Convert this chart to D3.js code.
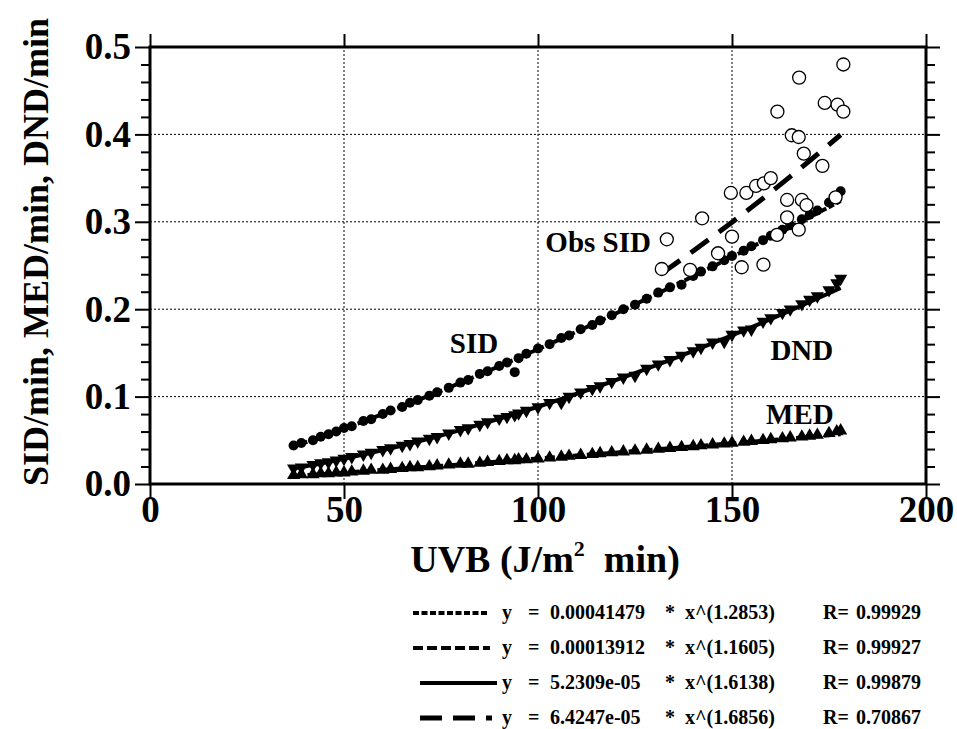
<!DOCTYPE html>
<html>
<head>
<meta charset="utf-8">
<script src="https://cdn.jsdelivr.net/npm/d3@7"></script>
<style>
  body { margin: 0; background: #fff; }
  svg text { font-family: "Liberation Serif", "Times New Roman", serif; font-weight: bold; fill: #000; }
</style>
</head>
<body>
<div id="chart"></div>
<script>
// calculated values (same UVB readings for SID, MED, DND)
var uvb = [37,39,42,44,46,48,50,52,55,57,60,62,65,67,69,72,74,77,80,82,85,87,90,92,94,95,97,100,103,106,108,111,114,116,119,122,125,128,131,134,137,140,142,145,148,150,153,155,158,160,163,165,168,170,172,175,177,178]
var sidCalc = [0.044,0.047,0.050,0.054,0.057,0.060,0.064,0.066,0.072,0.074,0.080,0.084,0.088,0.093,0.096,0.101,0.105,0.110,0.116,0.119,0.126,0.129,0.135,0.139,0.128,0.144,0.149,0.155,0.160,0.167,0.170,0.177,0.182,0.187,0.193,0.200,0.205,0.212,0.219,0.225,0.228,0.238,0.243,0.249,0.256,0.261,0.267,0.272,0.279,0.284,0.291,0.296,0.303,0.308,0.313,0.322,0.326,0.335]
var medCalc = [0.010,0.011,0.011,0.012,0.012,0.013,0.013,0.014,0.015,0.016,0.016,0.017,0.018,0.019,0.019,0.020,0.021,0.022,0.023,0.023,0.024,0.025,0.026,0.027,0.027,0.028,0.028,0.029,0.030,0.031,0.032,0.033,0.034,0.035,0.036,0.037,0.038,0.039,0.040,0.041,0.042,0.043,0.044,0.045,0.046,0.047,0.048,0.049,0.050,0.051,0.052,0.053,0.054,0.055,0.056,0.058,0.060,0.061]
var dndCalc = [0.018,0.019,0.022,0.024,0.025,0.027,0.029,0.031,0.034,0.036,0.039,0.041,0.044,0.046,0.049,0.052,0.054,0.058,0.062,0.064,0.068,0.071,0.075,0.077,0.079,0.081,0.084,0.088,0.093,0.093,0.100,0.105,0.109,0.112,0.117,0.122,0.124,0.132,0.137,0.142,0.147,0.152,0.156,0.162,0.163,0.171,0.176,0.177,0.186,0.190,0.196,0.200,0.206,0.211,0.215,0.222,0.230,0.235]

// observed SID (open circles)
var obsUvb = [178.7,167.3,161.7,173.9,177.2,178.7,165.4,167.2,168.5,173.3,149.7,153.7,156.2,158.2,160.0,164.2,168.0,169.2,176.7,142.3,164.2,150.0,161.6,167.2,133.2,131.9,139.2,146.4,152.5,158.1]
var obsSid = [0.480,0.465,0.426,0.436,0.434,0.426,0.399,0.397,0.378,0.364,0.333,0.333,0.341,0.344,0.350,0.325,0.325,0.319,0.328,0.304,0.305,0.283,0.285,0.291,0.280,0.246,0.245,0.264,0.248,0.251]

// fitted curves
var fitUvb = [37,44,50,57,65,74,82,90,100,108,116,125,134,142,150,158,165,172,178]
var sidFit = [0.0430,0.0537,0.0633,0.0749,0.0887,0.1048,0.1196,0.1348,0.1543,0.1703,0.1867,0.2055,0.2248,0.2421,0.2598,0.2778,0.2937,0.3098,0.3238]
var medFit = [0.0092,0.0112,0.0130,0.0152,0.0177,0.0205,0.0231,0.0258,0.0291,0.0319,0.0346,0.0377,0.0409,0.0438,0.0466,0.0495,0.0521,0.0547,0.0569]
var dndFit = [0.0178,0.0235,0.0289,0.0357,0.0441,0.0544,0.0642,0.0746,0.0884,0.1001,0.1124,0.1268,0.1418,0.1557,0.1701,0.1850,0.1984,0.2122,0.2243]
var obsFitUvb = [132,140,145,150,155,160,165,170,175,178]
var obsFit = [0.2414,0.2666,0.2829,0.2995,0.3165,0.3339,0.3517,0.3698,0.3883,0.3996]

var xTicks = [0,50,100,150,200]
var yTicks = [0,0.1,0.2,0.3,0.4,0.5]
var yMinor = [0.02,0.04,0.06,0.08,0.12,0.14,0.16,0.18,0.22,0.24,0.26,0.28,0.32,0.34,0.36,0.38,0.42,0.44,0.46,0.48]

var legendCoef = ["0.00041479","0.00013912","5.2309e-05","6.4247e-05"]
var legendExp = ["1.2853","1.1605","1.6138","1.6856"]
var legendR = ["0.99929","0.99927","0.99879","0.70867"]

var width = 957, height = 729

var svg = d3.select("#chart").append("svg")
  .attr("width", width)
  .attr("height", height)

var x = d3.scaleLinear().domain([0, 200]).range([150, 926])
var y = d3.scaleLinear().domain([0, 0.5]).range([484, 47])

// grid (dotted)
var grid = svg.append("g").attr("stroke", "#000").attr("stroke-width", 1).attr("stroke-dasharray", "2,2")
grid.selectAll(".gy").data(yTicks.slice(1, -1)).enter().append("line")
  .attr("x1", x(0)).attr("x2", x(200))
  .attr("y1", function(d) { return y(d) }).attr("y2", function(d) { return y(d) })
grid.selectAll(".gx").data(xTicks.slice(1, -1)).enter().append("line")
  .attr("y1", y(0)).attr("y2", y(0.5))
  .attr("x1", function(d) { return x(d) }).attr("x2", function(d) { return x(d) })

// fitted lines
var line = d3.line()
  .x(function(d) { return x(d[0]) })
  .y(function(d) { return y(d[1]) })
  .curve(d3.curveMonotoneX)

function fitPath(xs, ys, dash, w) {
  svg.append("path")
    .datum(xs.map(function(v, i) { return [v, ys[i]] }))
    .attr("d", line)
    .attr("fill", "none")
    .attr("stroke", "#000")
    .attr("stroke-width", w)
    .attr("stroke-dasharray", dash)
}
fitPath(fitUvb, sidFit, "6,2.5", 4)
fitPath(fitUvb, medFit, "10,4", 4)
fitPath(fitUvb, dndFit, null, 4)
fitPath(obsFitUvb, obsFit, "22,13", 5)

// calculated points
svg.append("g").selectAll("circle").data(uvb).enter().append("circle")
  .attr("cx", function(d) { return x(d) })
  .attr("cy", function(d, i) { return y(sidCalc[i]) })
  .attr("r", 5)
  .attr("fill", "#000")

var tri = d3.symbol().type(d3.symbolTriangle).size(75)
svg.append("g").selectAll("path").data(uvb).enter().append("path")
  .attr("d", tri)
  .attr("transform", function(d, i) { return "translate(" + x(d) + "," + y(medCalc[i]) + ")" })
  .attr("fill", "#000")
svg.append("g").selectAll("path").data(uvb).enter().append("path")
  .attr("d", tri)
  .attr("transform", function(d, i) { return "translate(" + x(d) + "," + y(dndCalc[i]) + ") rotate(180)" })
  .attr("fill", "#000")

// observed points
svg.append("g").selectAll("circle").data(obsUvb).enter().append("circle")
  .attr("cx", function(d) { return x(d) })
  .attr("cy", function(d, i) { return y(obsSid[i]) })
  .attr("r", 6.5)
  .attr("fill", "#fff")
  .attr("stroke", "#000")
  .attr("stroke-width", 1.3)

// series labels
function label(t, dx, dy) {
  svg.append("text").attr("x", x(dx)).attr("y", y(dy))
    .attr("text-anchor", "middle").style("font-size", "29px").text(t)
}
label("Obs SID", 115.5, 0.266)
label("SID", 83.5, 0.150)
label("DND", 168, 0.142)
label("MED", 167.5, 0.069)

// frame
svg.append("rect")
  .attr("x", x(0)).attr("y", y(0.5))
  .attr("width", x(200) - x(0)).attr("height", y(0) - y(0.5))
  .attr("fill", "none").attr("stroke", "#000").attr("stroke-width", 3)

function styleAxis(g, fontSize) {
  g.select(".domain").remove()
  g.selectAll(".tick line").attr("stroke", "#000").attr("stroke-width", 2)
  g.selectAll("text").style("font-size", fontSize).attr("fill", "#000")
    .style("font-family", "'Liberation Serif', serif").style("font-weight", "bold")
}

var gb = svg.append("g").attr("transform", "translate(0," + y(0) + ")")
  .call(d3.axisBottom(x).tickValues(xTicks).tickSize(15).tickPadding(-3).tickFormat(d3.format("d")))
styleAxis(gb, "37px")

var gt = svg.append("g").attr("transform", "translate(0," + y(0.5) + ")")
  .call(d3.axisTop(x).tickValues(xTicks).tickSize(13).tickFormat(""))
styleAxis(gt, "0px")

var gl = svg.append("g").attr("transform", "translate(" + x(0) + ",0)")
  .call(d3.axisLeft(y).tickValues(yTicks).tickSize(15).tickPadding(4).tickFormat(d3.format(".1f")))
styleAxis(gl, "37px")
var glm = svg.append("g").attr("transform", "translate(" + x(0) + ",0)")
  .call(d3.axisLeft(y).tickValues(yMinor).tickSize(9).tickFormat(""))
styleAxis(glm, "0px")

var gr = svg.append("g").attr("transform", "translate(" + x(200) + ",0)")
  .call(d3.axisRight(y).tickValues(yTicks).tickSize(14).tickFormat(""))
styleAxis(gr, "0px")
var grm = svg.append("g").attr("transform", "translate(" + x(200) + ",0)")
  .call(d3.axisRight(y).tickValues(yMinor).tickSize(9).tickFormat(""))
styleAxis(grm, "0px")

// axis titles
svg.append("text")
  .attr("transform", "translate(48,252) rotate(-90)")
  .attr("text-anchor", "middle")
  .style("font-size", "36px")
  .text("SID/min, MED/min, DND/min")

var xt = svg.append("text").attr("x", 545).attr("y", 572).attr("text-anchor", "middle").style("font-size", "38px")
xt.append("tspan").text("UVB (J/m")
xt.append("tspan").attr("dy", -16).style("font-size", "22px").text("2")
xt.append("tspan").attr("dy", 16).text("\u00a0 min)")

// legend
var legendY = [613, 648, 683, 718]
var legendDash = ["6,2.5", "10,4", null, "22,11"]
var legendX0 = [413, 413, 420, 420]
var legendX1 = [488, 490, 497, 492]
var legend = svg.append("g")
legendY.forEach(function(ly, i) {
  legend.append("line")
    .attr("x1", legendX0[i]).attr("x2", legendX1[i])
    .attr("y1", ly).attr("y2", ly)
    .attr("stroke", "#000").attr("stroke-width", i == 3 ? 5 : 4)
    .attr("stroke-dasharray", legendDash[i])
  var parts = [["y", 502], ["=", 528], [legendCoef[i], 550], ["*", 665], ["x^(" + legendExp[i] + ")", 685], ["R=", 823], [legendR[i], 856]]
  parts.forEach(function(p) {
    legend.append("text").attr("x", p[1]).attr("y", ly + 6)
      .style("font-size", "20px").text(p[0])
  })
})
</script>
</body>
</html>
